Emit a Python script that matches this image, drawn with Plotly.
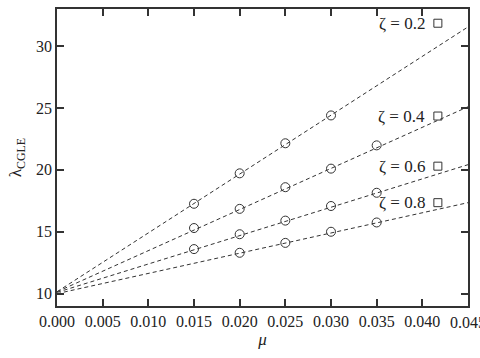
import plotly.graph_objects as go

# Data
zeta_labels = ["ζ = 0.2", "ζ = 0.4", "ζ = 0.6", "ζ = 0.8"]
mu_02 = [0.015, 0.020, 0.025, 0.030]
lam_02 = [17.26, 19.72, 22.15, 24.40]
mu_04 = [0.015, 0.020, 0.025, 0.030, 0.035]
lam_04 = [15.30, 16.85, 18.60, 20.10, 21.98]
mu_06 = [0.015, 0.020, 0.025, 0.030, 0.035]
lam_06 = [13.60, 14.80, 15.90, 17.08, 18.15]
mu_08 = [0.020, 0.025, 0.030, 0.035]
lam_08 = [13.30, 14.10, 15.00, 15.75]

# fitted lines: values at mu = 0 and mu = 0.045
fit_mu = [0.0, 0.045]
fit_02 = [10.15, 31.55]
fit_04 = [10.15, 25.10]
fit_06 = [10.10, 20.42]
fit_08 = [10.00, 17.35]

# key positions
key_mu = 0.0417
key_lam = [31.85, 24.35, 20.30, 17.35]

x_ticks = [0.0, 0.005, 0.01, 0.015, 0.02, 0.025, 0.03, 0.035, 0.04, 0.045]
y_ticks = [10, 15, 20, 25, 30]

SERIF = "Liberation Serif, Tinos, Times New Roman, DejaVu Serif, serif"

series = [(mu_02, lam_02, fit_02), (mu_04, lam_04, fit_04),
          (mu_06, lam_06, fit_06), (mu_08, lam_08, fit_08)]

line_col = "#333333"
fig = go.Figure()
for mu, lam, fit in series:
    fig.add_trace(go.Scatter(x=fit_mu, y=fit, mode="lines",
                             line=dict(color=line_col, width=1, dash="4px,3px"),
                             showlegend=False, hoverinfo="skip"))
    fig.add_trace(go.Scatter(x=mu, y=lam, mode="markers",
                             marker=dict(symbol="circle-open", size=9,
                                         color=line_col, line=dict(width=1)),
                             showlegend=False))

fig.add_trace(go.Scatter(x=[key_mu] * len(key_lam), y=key_lam, mode="markers",
                         marker=dict(symbol="square-open", size=8, color=line_col,
                                     line=dict(width=1)),
                         showlegend=False))

for lab, yv in zip(zeta_labels, key_lam):
    fig.add_annotation(x=0.0405, y=yv, text=lab, showarrow=False,
                       xanchor="right", yanchor="middle",
                       font=dict(family=SERIF, size=17, color="#222222"))

# last x tick label (clipped by the page edge in the reference)
fig.add_annotation(x=x_ticks[-1], y=0, xref="x", yref="paper", yshift=-6,
                   text=f"{x_ticks[-1]:.3f}", showarrow=False,
                   xanchor="center", yanchor="top",
                   font=dict(family=SERIF, size=16, color="#222222"))

axis_common = dict(showline=True, linecolor="#333333", linewidth=1.5, mirror="ticks",
                   ticks="inside", ticklen=7, tickwidth=1.5, tickcolor="#333333",
                   showgrid=False, zeroline=False,
                   tickfont=dict(family=SERIF, size=16, color="#222222"))

fig.update_layout(
    width=480, height=358,
    margin=dict(l=57, r=12, t=7, b=52),
    paper_bgcolor="white", plot_bgcolor="white",
    font=dict(family=SERIF),
    xaxis=dict(range=[0, 0.045], tickvals=x_ticks,
               ticktext=[f"{v:.3f}" for v in x_ticks[:-1]] + [""],
               title=dict(text="<i>μ</i>", font=dict(family=SERIF, size=17, color="#222222"),
                          standoff=4),
               **axis_common),
    yaxis=dict(range=[9, 33], tickvals=y_ticks,
               title=dict(text="λ<sub>CGLE</sub>", font=dict(family=SERIF, size=17, color="#222222"),
                          standoff=10),
               **axis_common),
)

fig.write_html("out.html")
